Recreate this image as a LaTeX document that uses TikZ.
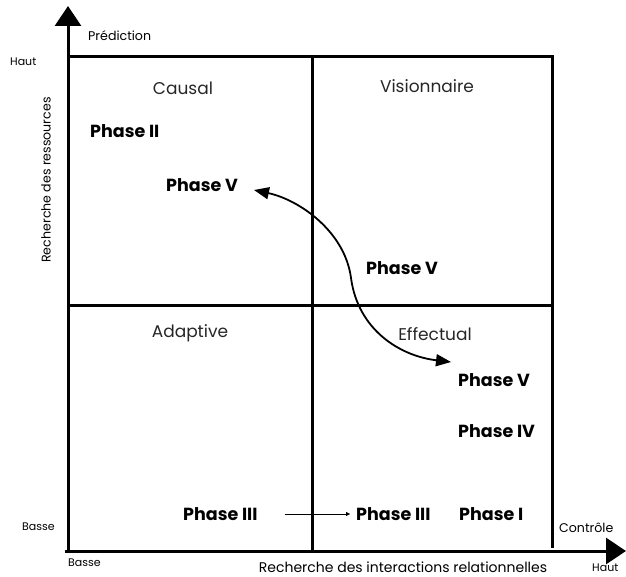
\documentclass[tikz,border=0pt]{standalone}
\usepackage{fontspec}
\setmainfont{Poppins}
\usetikzlibrary{arrows.meta,positioning}

\begin{document}
\begin{tikzpicture}[x=1pt, y=-1pt,
  axis/.style={line width=3pt, -{Triangle[length=20pt, width=26pt]}},
  frameline/.style={line width=3pt},
  quad/.style={font=\fontsize{17}{20}\selectfont, text=black!85},
  phase/.style={font=\fontsize{17.5}{20}\selectfont\bfseries, anchor=west, inner sep=0pt},
  lbl/.style={font=\fontsize{12.6}{15}\selectfont, inner sep=0pt},
  small/.style={font=\fontsize{11}{13}\selectfont, inner sep=0pt},
  move/.style={line width=1.8pt, {Triangle[length=15pt, width=12pt]}-{Triangle[length=15pt, width=12pt]}},
  stepline/.style={thin, -{Triangle[length=4pt, width=4pt]}}
]
\useasboundingbox (0,0) rectangle (626,577);

% Axes
\coordinate (origin) at (68,551);
\coordinate (ytip)   at (68,6);
\coordinate (xtip)   at (626,551);
\draw[axis] (68,553) -- (ytip);
\draw[axis] (65,551) -- (xtip);

% Quadrant grid
\draw[frameline] (68,57) -- (552,57) -- (552,548);
\draw[frameline] (312,57) -- (312,551);
\draw[frameline] (68,305) -- (552,305);

% Axis labels
\node[lbl, anchor=west] (pred)   at (88,36)  {Prédiction};
\node[small, anchor=west] (hauty)  at (10,62)  {Haut};
\node[small, anchor=west] (bassey) at (22,527) {Basse};
\node[small, anchor=west] (bassex) at (68,563) {Basse};
\node[lbl, anchor=west] (ctrl)   at (559,528) {Contrôle};
\node[small, anchor=west] (hautx)  at (592,568) {Haut};
\node[lbl, font=\fontsize{14}{16}\selectfont] (xlab) at (403,567) {Recherche des interactions relationnelles};
\node[lbl, rotate=90] (ylab) at (46,180) {Recherche des ressources};

% Quadrant titles
\node[quad] (causal) at (183,88)  {Causal};
\node[quad] (vision) at (427,86)  {Visionnaire};
\node[quad] (adapt)  at (190,333) {Adaptive};
\node[quad] (effect) at (435,334) {Effectual};

% Phases
\node[phase] (p2)   at (90,131)  {Phase II};
\node[phase] (p5a)  at (166,185) {Phase V};
\node[phase] (p5b)  at (366,268) {Phase V};
\node[phase] (p5c)  at (458,380) {Phase V};
\node[phase] (p4)   at (458,431) {Phase IV};
\node[phase] (p3a)  at (183,514) {Phase III};
\node[phase] (p3b)  at (356,514) {Phase III};
\node[phase] (p1)   at (459,514) {Phase I};

% Transitions
\coordinate (mvfrom) at (254,190);
\coordinate (mvto)   at (451,362);
\draw[move] (mvfrom) .. controls (300,200) and (345,232) .. (351,278)
  .. controls (358,330) and (400,356) .. (mvto);
\draw[stepline] ([xshift=27pt]p3a.east) -- ([xshift=-6pt]p3b.west);
\end{tikzpicture}
\end{document}
